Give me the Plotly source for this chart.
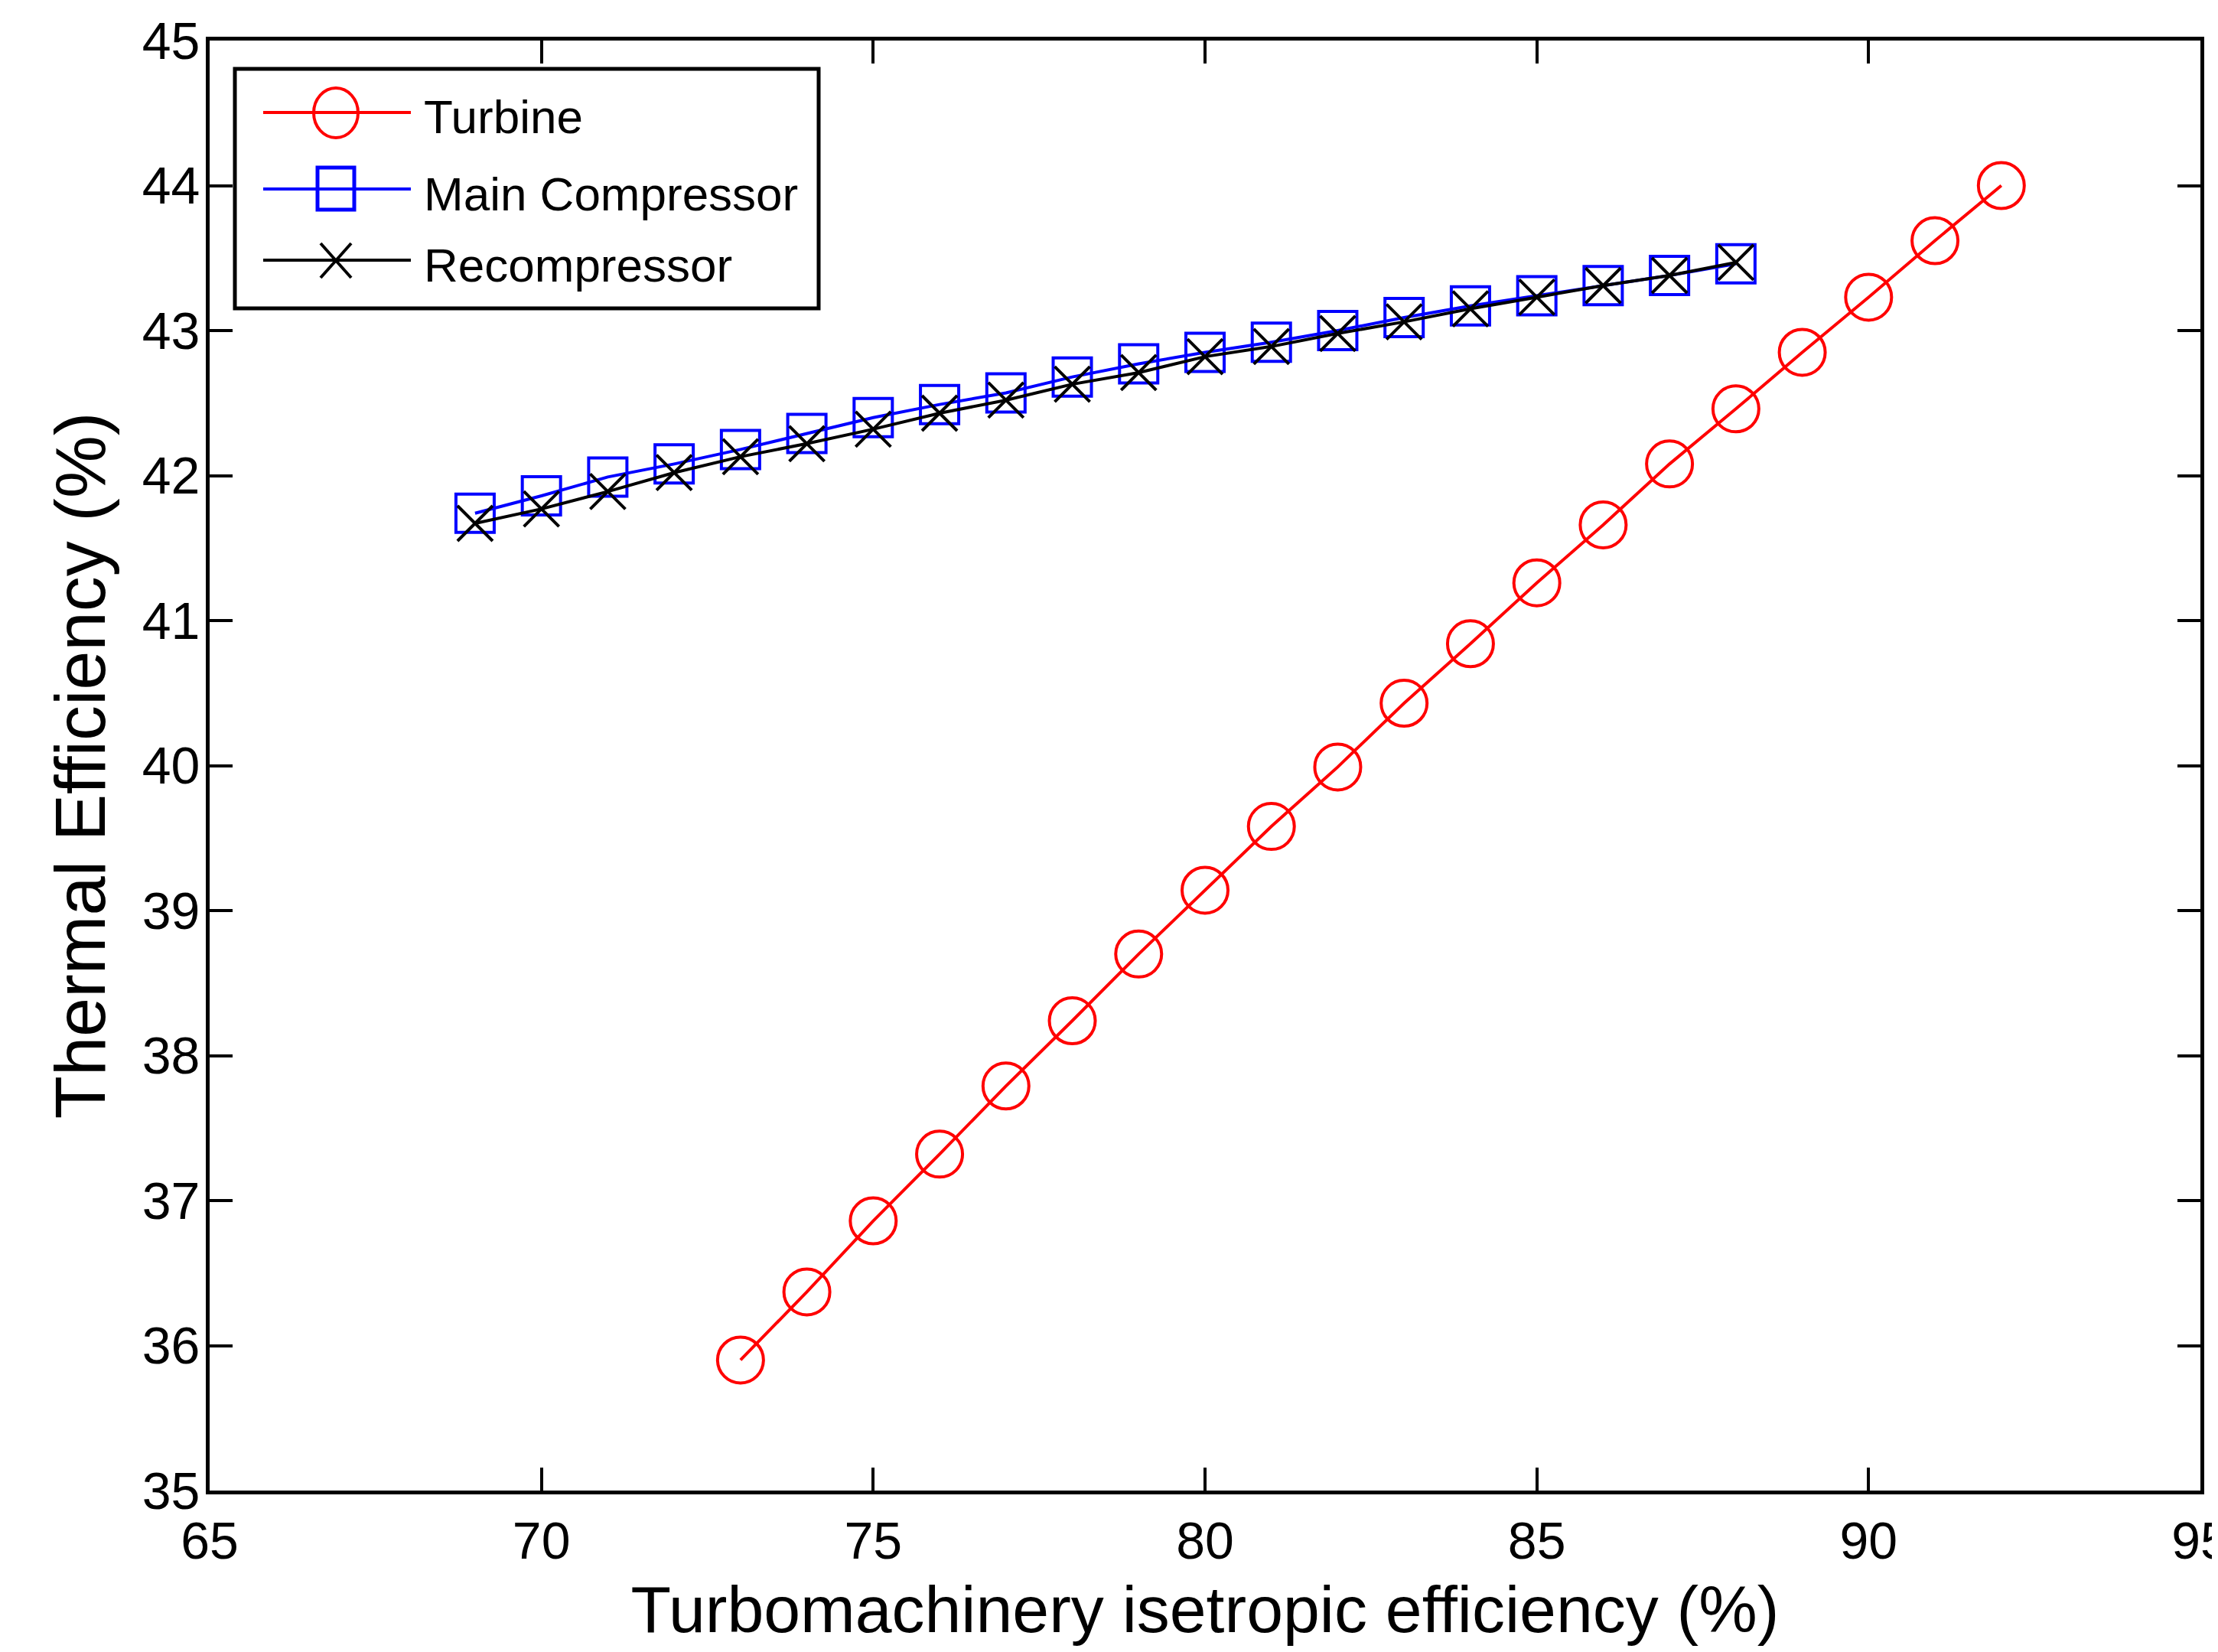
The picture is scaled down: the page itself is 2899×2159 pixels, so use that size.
import plotly.graph_objects as go

# ---------------- data ----------------
turbine_x = [73, 74, 75, 76, 77, 78, 79, 80, 81, 82, 83, 84, 85, 86, 87, 88, 89, 90, 91, 92]
turbine_y = [35.90, 36.37, 36.86, 37.32, 37.79, 38.24, 38.70, 39.14, 39.58, 39.99,
             40.43, 40.84, 41.26, 41.66, 42.08, 42.46, 42.85, 43.23, 43.62, 44.00]

comp_x = [69, 70, 71, 72, 73, 74, 75, 76, 77, 78, 79, 80, 81, 82, 83, 84, 85, 86, 87, 88]
main_comp_y = [41.74, 41.86, 41.99, 42.08, 42.18, 42.29, 42.40, 42.49, 42.57, 42.68,
               42.77, 42.85, 42.92, 43.00, 43.09, 43.17, 43.24, 43.31, 43.38, 43.46]
recomp_y = [41.67, 41.77, 41.89, 42.02, 42.13, 42.22, 42.32, 42.43, 42.52, 42.63,
            42.71, 42.82, 42.89, 42.98, 43.06, 43.15, 43.23, 43.31, 43.38, 43.47]

series_names = ["Turbine", "Main Compressor", "Recompressor"]
x_ticks = [65, 70, 75, 80, 85, 90, 95]
y_ticks = [35, 36, 37, 38, 39, 40, 41, 42, 43, 44, 45]

# ---------------- figure ----------------
OFF = 8                       # page body margin
W, H = 2899 - 2 * OFF, 2159 - 2 * OFF
ML, MT = 274 - OFF, 53 - OFF
PR, PB = 2876 - OFF, 1948 - OFF
MR, MB = W - PR, H - PB
PW, PH = W - ML - MR, H - MT - MB
FONT = "Arial, Liberation Sans, sans-serif"
TICKFONT = "Liberation Sans Narrow, Arial Narrow, Arial, sans-serif"

fig = go.Figure()
fig.add_trace(go.Scatter(
    x=turbine_x, y=turbine_y, mode="lines+markers", name=series_names[0],
    line=dict(color="#ff0000", width=4),
    marker=dict(symbol="circle-open", size=60, color="#ff0000", line=dict(width=4, color="#ff0000")),
    showlegend=False))
fig.add_trace(go.Scatter(
    x=comp_x, y=main_comp_y, mode="lines+markers", name=series_names[1],
    line=dict(color="#0000ff", width=4),
    marker=dict(symbol="square-open", size=50, color="#0000ff", line=dict(width=4, color="#0000ff")),
    showlegend=False))
fig.add_trace(go.Scatter(
    x=comp_x, y=recomp_y, mode="lines+markers", name=series_names[2],
    line=dict(color="#000000", width=4),
    marker=dict(symbol="x-thin-open", size=46, color="#000000", line=dict(width=4, color="#000000")),
    showlegend=False))

# ---------------- custom legend (decoration in paper coordinates) ----------------
def px(xs):
    return (xs - OFF - ML) / PW

def py(ys):
    return 1 - (ys - OFF - MT) / PH

shapes = []
annotations = []
shapes.append(dict(type="rect", xref="paper", yref="paper",
                   x0=px(307), x1=px(1070), y0=py(403), y1=py(90),
                   line=dict(color="black", width=5), fillcolor="white", layer="above"))
rows = [147, 247, 340]
colors = ["#ff0000", "#0000ff", "#000000"]
for name, col, ry in zip(series_names, colors, rows):
    shapes.append(dict(type="line", xref="paper", yref="paper",
                       x0=px(344), x1=px(537), y0=py(ry), y1=py(ry),
                       line=dict(color=col, width=4), layer="above"))
    annotations.append(dict(xref="paper", yref="paper", x=px(552), y=py(ry + 6),
                            text=name, showarrow=False, xanchor="left", yanchor="middle",
                            font=dict(family=FONT, size=62, color="black")))
cx = 439
shapes.append(dict(type="circle", xref="paper", yref="paper",
                   x0=px(cx - 29), x1=px(cx + 29), y0=py(rows[0] + 33), y1=py(rows[0] - 32),
                   line=dict(color="#ff0000", width=4), layer="above"))
shapes.append(dict(type="rect", xref="paper", yref="paper",
                   x0=px(cx - 24), x1=px(cx + 24), y0=py(rows[1] + 27), y1=py(rows[1] - 28),
                   line=dict(color="#0000ff", width=5), layer="above"))
for dx in (-1, 1):
    shapes.append(dict(type="line", xref="paper", yref="paper",
                       x0=px(cx - 20 * dx), x1=px(cx + 20 * dx),
                       y0=py(rows[2] - 22), y1=py(rows[2] + 23),
                       line=dict(color="#000000", width=4), layer="above"))

fig.update_layout(
    width=W, height=H,
    margin=dict(l=ML, r=MR, t=MT, b=MB, autoexpand=False),
    paper_bgcolor="white", plot_bgcolor="white",
    font=dict(family=FONT, color="black", size=58),
    shapes=shapes, annotations=annotations,
    showlegend=False,
)
fig.update_xaxes(
    range=[65, 95], tickvals=x_ticks, ticktext=[str(v) for v in x_ticks],
    showgrid=False, zeroline=False,
    showline=True, linecolor="black", linewidth=5, mirror="ticks",
    ticks="inside", ticklen=30, tickwidth=4, tickcolor="black",
    tickfont=dict(size=68, family=TICKFONT), ticklabelstandoff=2,
    ticklabeloverflow="allow",
    title=dict(text="Turbomachinery isetropic efficiency (%)",
               font=dict(size=86, family=FONT), standoff=34),
)
fig.update_yaxes(
    range=[35, 45], tickvals=y_ticks, ticktext=[str(v) for v in y_ticks],
    showgrid=False, zeroline=False,
    showline=True, linecolor="black", linewidth=5, mirror="ticks",
    ticks="inside", ticklen=30, tickwidth=4, tickcolor="black",
    tickfont=dict(size=68, family=TICKFONT), ticklabelstandoff=-6,
    ticklabeloverflow="allow",
    title=dict(text="Thermal Efficiency (%)",
               font=dict(size=92, family=FONT), standoff=19),
)

fig.write_html("out.html")
